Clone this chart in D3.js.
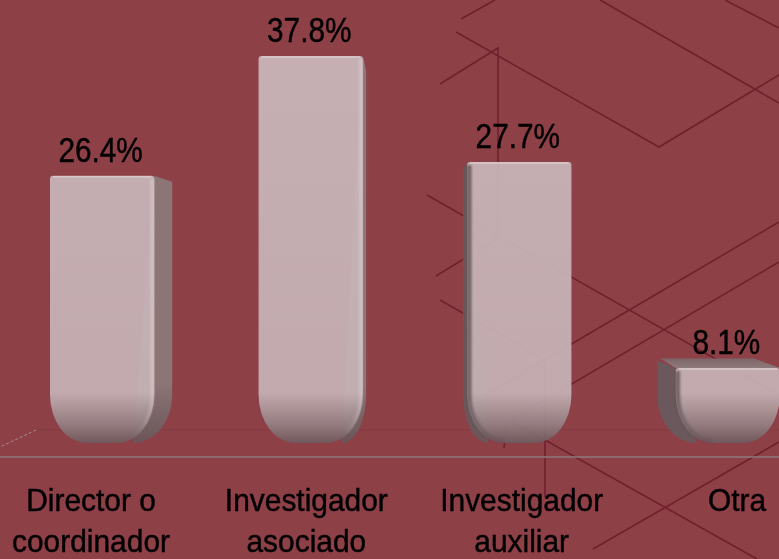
<!DOCTYPE html>
<html><head><meta charset="utf-8">
<script src="https://cdn.jsdelivr.net/npm/d3@7"></script>
<style>html,body{margin:0;padding:0;background:#8e3f47;overflow:hidden}svg{display:block}text{font-family:"Liberation Sans",Arial,sans-serif;fill:#050203;stroke:#050203;stroke-width:.45}</style>
</head><body><script>
const categories = ["Director o|coordinador","Investigador|asociado","Investigador|auxiliar","Otra"];
const values = [26.4,37.8,27.7,8.1];
const valueLabels = ["26.4%","37.8%","27.7%","8.1%"];
// decorative background line pattern (not data)
const decorLines = [
 [[461,19],[495,0]],[[456,32],[659,147],[779,75]],[[440,84],[498,48],[498,238],[436,276]],
 [[600,0],[779,103]],[[725,0],[779,28]],[[427,195],[779,395]],[[440,300],[545,360],[545,497]],
 [[779,222],[478,399]],[[779,262],[507,422],[504,448]],[[513,422],[757,559]],[[779,442],[593,549]]
];
const W=779,H=559, BASE=453, AXIS=457, BOTTOM=443, RX=37, RY=48, k=0.07, vpx=410, vpy=233;
const svg=d3.select("body").append("svg").attr("width",W).attr("height",H);
const defs=svg.append("defs");
const x=d3.scaleBand().domain(categories).range([50,780]).paddingInner(.5);
const xLabel=d3.scalePoint().domain(categories).range([91,737]);
const y=d3.scaleLinear().domain([0,37.8]).range([BASE,56]);
const bw=x.bandwidth();

function vGrad(id,stops,y1,y2){
  const g=defs.append("linearGradient").attr("id",id).attr("gradientUnits","userSpaceOnUse").attr("x1",0).attr("x2",0).attr("y1",y1).attr("y2",y2);
  stops.forEach(s=>g.append("stop").attr("offset",s[0]).attr("stop-color",s[1]).attr("stop-opacity",s[2]===undefined?1:s[2]));
}
vGrad("front",[[0,"#cbb9bc"],[.87,"#c6b3b6"],[.95,"#968285"],[1,"#6e5a5d"]],56,BOTTOM);
vGrad("sideR",[[0,"#8b7475"],[.85,"#8b7475"],[1,"#6a5558"]],56,BOTTOM);
vGrad("sideL",[[0,"#6a585b"],[1,"#6a585b"]],56,BOTTOM);
vGrad("hiR",[[0,"#dccdd0",.65],[.86,"#dccdd0",.6],[.98,"#dccdd0",0]],56,BOTTOM);
vGrad("hiL",[[0,"#5a4a4d",.75],[.88,"#5a4a4d",.7],[1,"#5a4a4d",.25]],56,BOTTOM);
const tg=defs.append("linearGradient").attr("id","topFace").attr("x1",0).attr("x2",0).attr("y1",0).attr("y2",1);
[[0,"#7c6568"],[1,"#8f7a7b"]].forEach(s=>tg.append("stop").attr("offset",s[0]).attr("stop-color",s[1]));
const bl=defs.append("filter").attr("id","soft").attr("filterUnits","userSpaceOnUse").attr("x",-10).attr("y",-10).attr("width",W+20).attr("height",H+20);
bl.append("feGaussianBlur").attr("stdDeviation",.5);
const bl2=defs.append("filter").attr("id","softer").attr("filterUnits","userSpaceOnUse").attr("x",-10).attr("y",-10).attr("width",W+20).attr("height",H+20);
bl2.append("feGaussianBlur").attr("stdDeviation",1.1);

const root=svg.append("g").attr("filter","url(#soft)");
root.append("rect").attr("x",-10).attr("y",-10).attr("width",W+20).attr("height",H+20).attr("fill","#8e3f47");

const line=d3.line();
root.append("g").selectAll("path").data(decorLines).join("path").attr("d",line).attr("fill","none").attr("stroke","#70212b").attr("stroke-width",1.6);

// floor
root.append("line").attr("x1",36).attr("x2",W).attr("y1",430).attr("y2",430).attr("stroke","#833c43").attr("stroke-width",1);
root.append("line").attr("x1",36).attr("x2",0).attr("y1",430).attr("y2",447).attr("stroke","#a98a8d").attr("stroke-width",1).attr("stroke-dasharray","3 2");
root.append("line").attr("x1",-10).attr("x2",W+10).attr("y1",AXIS).attr("y2",AXIS).attr("stroke","#8a7b7d").attr("stroke-width",1.6);

const bars=root.append("g").selectAll("g").data(categories.map((c,i)=>({c,v:values[i],lab:valueLabels[i]}))).join("g");
bars.each(function(d){
  const g=d3.select(this), L=x(d.c), R=L+bw, T=y(d.v);
  const rightSide=(L+R)/2<vpx;
  const e=rightSide?R:L;
  const backX=e+(vpx-e)*k, backT=T+(vpy-T)*k;
  const inner=rightSide?e-21:e+21;
  const sweep=rightSide?1:0;
  const startY=BOTTOM-RY;
  g.append("path").attr("fill",rightSide?"url(#sideR)":"url(#sideL)")
    .attr("d",`M${e},${T}L${backX},${backT+2}L${backX},${Math.max(startY,backT+4)}A${Math.abs(backX-inner)},${RY} 0 0 ${sweep} ${inner},${BOTTOM}Z`);
  if(backT<T){
    const far=rightSide?L:R, farX=far+(vpx-far)*k;
    g.append("path").attr("fill","url(#topFace)").attr("d",`M${e},${T}L${backX+(rightSide?-2:3)},${backT}L${farX},${backT}L${far},${T}Z`);
  }
  const frontPath=`M${L+3},${T}L${R-3},${T}Q${R},${T} ${R},${T+3}L${R},${BOTTOM-RY}A${RX},${RY} 0 0 1 ${R-RX},${BOTTOM}L${L+RX},${BOTTOM}A${RX},${RY} 0 0 1 ${L},${BOTTOM-RY}L${L},${T+3}Q${L},${T} ${L+3},${T}Z`;
  g.append("path").attr("fill","url(#front)").attr("fill-opacity",.92).attr("d",frontPath);
  g.append("line").attr("x1",L+3).attr("x2",R-3).attr("y1",T+1).attr("y2",T+1).attr("stroke","#d8c8cb").attr("stroke-width",1.5);
  // soft edge shading that follows the rounded corner
  const hx=rightSide?R-2:L+2;
  const arcEndX=rightSide?R-RX:L+RX;
  g.append("path").attr("fill","none").attr("filter","url(#softer)")
    .attr("stroke",rightSide?"url(#hiR)":"url(#hiL)").attr("stroke-width",rightSide?3:5)
    .attr("d",`M${hx},${T+3}L${hx},${BOTTOM-RY}A${RX-2},${RY-2} 0 0 ${sweep} ${arcEndX},${BOTTOM-2}`);
  const cx=(L+R)/2-1.5;
  g.append("text").attr("transform",`translate(${cx},${T-14}) scale(.875,1.03)`).attr("text-anchor","middle").attr("font-size",34).text(d.lab);
  d.c.split("|").forEach((t,i)=>{
    g.append("text").attr("transform",`translate(${xLabel(d.c)},${511+i*41}) scale(.935,1)`).attr("text-anchor","middle").attr("font-size",32).text(t);
  });
});
</script></body></html>
